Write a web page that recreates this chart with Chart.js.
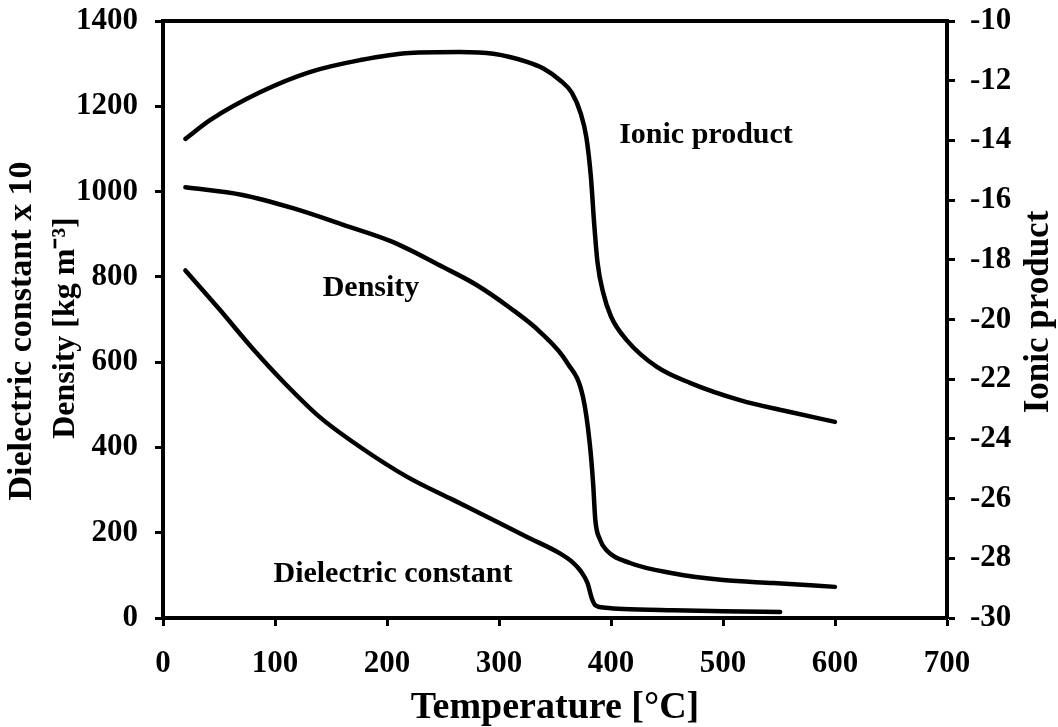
<!DOCTYPE html>
<html>
<head>
<meta charset="utf-8">
<script src="https://cdn.jsdelivr.net/npm/chart.js@4/dist/chart.umd.min.js"></script>
<style>
  html, body { margin: 0; padding: 0; background: #fff; overflow: hidden; }
  #c { display: block; }
</style>
</head>
<body>
<canvas id="c" width="1058" height="727"></canvas>
<script>
// ---- data ----
const xTicks = [0, 100, 200, 300, 400, 500, 600, 700];
const leftTicks = [0, 200, 400, 600, 800, 1000, 1200, 1400];
const rightTicks = [-30, -28, -26, -24, -22, -20, -18, -16, -14, -12, -10];

const ionT = [20, 42, 87, 131, 176, 220, 265, 295, 325, 340, 355, 365, 373, 378, 382, 385, 388, 393, 400, 414, 441, 471, 515, 560, 600];
const ionV = [-13.95, -13.32, -12.38, -11.71, -11.31, -11.07, -11.04, -11.1, -11.37, -11.6, -12.0, -12.4, -13.1, -13.9, -15.2, -16.8, -18.1, -19.1, -19.9, -20.69, -21.59, -22.13, -22.7, -23.1, -23.43];

const densT = [20, 71, 116, 161, 205, 250, 280, 310, 337, 361, 375, 381, 384, 386, 390, 396, 417, 455, 500, 545, 600];
const densV = [1010, 992, 961, 922, 882, 823, 781, 727, 670, 598, 518, 410, 317, 230, 185, 159, 129, 105, 89, 82, 73];

const dielT = [20, 50, 80, 110, 140, 176, 218, 259, 295, 325, 354, 366, 373, 379, 383, 386, 395, 411, 455, 500, 551];
const dielV = [815, 725, 632, 547, 471, 401, 331, 277, 230, 190, 152, 130, 110, 82, 45, 30, 24, 21, 18, 16, 14];

const xTitle = 'Temperature [\u00B0C]';
const leftTitle = ['Dielectric constant x 10', 'Density [kg m\u207B\u00B3]'];
const rightTitle = 'Ionic product';
const curveLabels = ['Ionic product', 'Density', 'Dielectric constant'];

// ---- helpers ----
const pts = (xs, ys) => xs.map((x, i) => ({ x: x, y: ys[i] }));
const FONT = '"Liberation Serif", "Times New Roman", serif';

const lineStyle = {
  borderColor: '#000',
  borderWidth: 4.5,
  pointRadius: 0,
  fill: false,
  cubicInterpolationMode: 'monotone',
  borderCapStyle: 'round',
  borderJoinStyle: 'round'
};

const textPlugin = {
  id: 'texts',
  afterDraw(chart) {
    const ctx = chart.ctx;
    const a = chart.chartArea;
    ctx.save();
    // top frame line
    ctx.strokeStyle = '#000';
    ctx.lineWidth = 4;
    ctx.beginPath();
    ctx.moveTo(a.left - 2, a.top);
    ctx.lineTo(a.right + 2, a.top);
    ctx.stroke();

    ctx.fillStyle = '#000';
    // curve labels inside plot
    ctx.font = 'bold 30px ' + FONT;
    ctx.textAlign = 'center';
    ctx.textBaseline = 'alphabetic';
    ctx.fillText(curveLabels[0], 706, 143);
    ctx.fillText(curveLabels[1], 371, 296);
    ctx.fillText(curveLabels[2], 393, 582);

    // x axis title
    ctx.font = 'bold 38px ' + FONT;
    ctx.fillText(xTitle, (a.left + a.right) / 2, 718);

    // left titles (rotated)
    ctx.font = 'bold 34px ' + FONT;
    ctx.save();
    ctx.translate(22, 331);
    ctx.rotate(-Math.PI / 2);
    ctx.textBaseline = 'middle';
    ctx.fillText(leftTitle[0], 0, 0);
    ctx.restore();
    ctx.font = 'bold 32px ' + FONT;
    ctx.save();
    ctx.translate(66, 328);
    ctx.rotate(-Math.PI / 2);
    ctx.textBaseline = 'middle';
    ctx.fillText(leftTitle[1], 0, 0);
    ctx.restore();

    // right title
    ctx.save();
    ctx.translate(1039, 312);
    ctx.rotate(-Math.PI / 2);
    ctx.textBaseline = 'middle';
    ctx.font = 'bold 35px ' + FONT;
    ctx.fillText(rightTitle, 0, 0);
    ctx.restore();

    ctx.restore();
  }
};

const tickFont = { family: FONT, size: 31, weight: 'bold' };
const gridOpts = { display: true, drawOnChartArea: false, drawTicks: true, tickLength: 8, tickWidth: 3, color: '#000' };
const borderOpts = { display: true, color: '#000', width: 4 };
const plain = v => String(v);
const fitV = w => s => { s.width = w; s.paddingTop = 0; s.paddingBottom = 0; };

new Chart(document.getElementById('c'), {
  type: 'line',
  data: {
    datasets: [
      Object.assign({ label: 'Ionic product', data: pts(ionT, ionV), yAxisID: 'y2' }, lineStyle),
      Object.assign({ label: 'Density', data: pts(densT, densV), yAxisID: 'y' }, lineStyle),
      Object.assign({ label: 'Dielectric constant', data: pts(dielT, dielV), yAxisID: 'y' }, lineStyle)
    ]
  },
  options: {
    responsive: false,
    devicePixelRatio: 1,
    animation: false,
    layout: { padding: { top: 21, left: 0, right: 0, bottom: 0 } },
    plugins: { legend: { display: false }, tooltip: { enabled: false } },
    scales: {
      x: {
        type: 'linear', position: 'bottom',
        min: xTicks[0], max: xTicks[xTicks.length - 1],
        afterBuildTicks: s => { s.ticks = xTicks.map(v => ({ value: v })); },
        afterFit: s => { s.height = 109; s.paddingLeft = 0; s.paddingRight = 0; },
        ticks: { font: tickFont, color: '#000', padding: 19, maxRotation: 0, autoSkip: false, callback: plain },
        grid: gridOpts, border: borderOpts
      },
      y: {
        type: 'linear', position: 'left',
        min: leftTicks[0], max: leftTicks[leftTicks.length - 1],
        afterBuildTicks: s => { s.ticks = leftTicks.map(v => ({ value: v })); },
        afterFit: fitV(163),
        ticks: { font: tickFont, color: '#000', padding: 17, autoSkip: false, callback: plain },
        grid: gridOpts, border: borderOpts
      },
      y2: {
        type: 'linear', position: 'right',
        min: rightTicks[0], max: rightTicks[rightTicks.length - 1],
        afterBuildTicks: s => { s.ticks = rightTicks.map(v => ({ value: v })); },
        afterFit: fitV(111),
        ticks: { font: tickFont, color: '#000', padding: 15, autoSkip: false, callback: plain },
        grid: gridOpts, border: borderOpts
      }
    }
  },
  plugins: [textPlugin]
});
</script>
</body>
</html>
